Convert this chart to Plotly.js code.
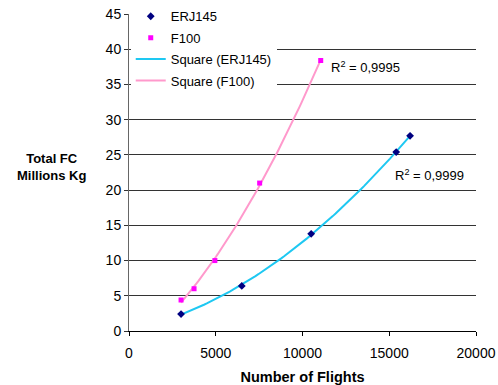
<!DOCTYPE html>
<html>
<head>
<meta charset="utf-8">
<script src="https://cdn.plot.ly/plotly-3.0.1.min.js"></script>
<style>html,body{margin:0;padding:0;background:#fff;}#chart{width:498px;height:385px;}</style>
</head>
<body>
<div id="chart"></div>
<script>
// Data
const erjFlights = [3000, 6500, 10500, 15400, 16200];
const erjFuel    = [2.4, 6.4, 13.8, 25.4, 27.7];
const f100Flights = [3000, 3750, 4950, 7530, 11050];
const f100Fuel    = [4.4, 6.0, 10.0, 21.0, 38.4];
const r2Labels = ["R<sup>2</sup> = 0,9999", "R<sup>2</sup> = 0,9995"];
const xTickVals = [0, 5000, 10000, 15000, 20000];
const yTickVals = [0, 5, 10, 15, 20, 25, 30, 35, 40, 45];

// Second-order (quadratic) least-squares trendline, like the spreadsheet "Square" fit
function quadFit(xs, ys) {
  let s = [0,0,0,0,0], t = [0,0,0];
  for (let i = 0; i < xs.length; i++) {
    const x = xs[i], y = ys[i];
    for (let k = 0; k < 5; k++) s[k] += Math.pow(x, k);
    for (let k = 0; k < 3; k++) t[k] += y * Math.pow(x, k);
  }
  const A = [[s[0], s[1], s[2], t[0]], [s[1], s[2], s[3], t[1]], [s[2], s[3], s[4], t[2]]];
  for (let c = 0; c < 3; c++) {
    let p = c;
    for (let r = c + 1; r < 3; r++) if (Math.abs(A[r][c]) > Math.abs(A[p][c])) p = r;
    [A[c], A[p]] = [A[p], A[c]];
    for (let r = 0; r < 3; r++) {
      if (r === c) continue;
      const f = A[r][c] / A[c][c];
      for (let k = c; k < 4; k++) A[r][k] -= f * A[c][k];
    }
  }
  const coef = [A[0][3] / A[0][0], A[1][3] / A[1][1], A[2][3] / A[2][2]];
  const lo = Math.min(...xs), hi = Math.max(...xs), n = 80;
  const fx = [], fy = [];
  for (let i = 0; i <= n; i++) {
    const x = lo + (hi - lo) * i / n;
    fx.push(x); fy.push(coef[0] + coef[1] * x + coef[2] * x * x);
  }
  return {x: fx, y: fy};
}

const erjFit = quadFit(erjFlights, erjFuel);
const f100Fit = quadFit(f100Flights, f100Fuel);

const data = [
  {type: 'scatter', mode: 'lines', name: 'Square (ERJ145)', x: erjFit.x, y: erjFit.y,
   line: {color: '#1EC8F2', width: 2}, legendrank: 3, legendgroup: 'c'},
  {type: 'scatter', mode: 'lines', name: 'Square (F100)', x: f100Fit.x, y: f100Fit.y,
   line: {color: '#FF99CC', width: 2}, legendrank: 4, legendgroup: 'd'},
  {type: 'scatter', mode: 'markers', name: 'ERJ145', x: erjFlights, y: erjFuel,
   marker: {symbol: 'diamond', color: '#000080', size: 6}, legendrank: 1, legendgroup: 'a'},
  {type: 'scatter', mode: 'markers', name: 'F100', x: f100Flights, y: f100Fuel,
   marker: {symbol: 'square', color: '#FF00FF', size: 5}, legendrank: 2, legendgroup: 'b'}
];

const font = 'Arial, "Liberation Sans", sans-serif';
const layout = {
  width: 498, height: 385,
  margin: {l: 129, r: 22, t: 14, b: 54, autoexpand: false},
  paper_bgcolor: '#fff', plot_bgcolor: '#fff',
  font: {family: font, size: 14, color: '#000'},
  showlegend: true,
  legend: {x: 0.005, y: 1.04, xanchor: 'left', yanchor: 'top', bgcolor: '#fff',
           borderwidth: 0, font: {family: font, size: 13, color: '#000'},
           traceorder: 'grouped', tracegroupgap: 1.5, itemclick: false},
  xaxis: {range: [0, 20000], tickvals: xTickVals, ticktext: xTickVals.map(String),
          showgrid: false, zeroline: false, showline: true, linecolor: '#000', linewidth: 1,
          ticks: 'outside', ticklen: 4, tickcolor: '#000', ticklabelstandoff: 5,
          tickfont: {size: 14},
          title: {text: '<b>Number of Flights</b>', font: {size: 14.5}, standoff: 12}},
  yaxis: {range: [0, 45], tickvals: yTickVals, ticktext: yTickVals.map(String),
          showgrid: true, gridcolor: '#333', gridwidth: 1, zeroline: false,
          showline: true, linecolor: '#666', linewidth: 1,
          ticks: 'outside', ticklen: 4, tickcolor: '#333', tickfont: {size: 14}},
  annotations: [
    {text: '<b>Total FC</b><br><b>Millions Kg</b>', xref: 'paper', yref: 'paper',
     x: -0.222, y: 0.516, xanchor: 'center', yanchor: 'middle', showarrow: false,
     font: {size: 13}},
    {text: r2Labels[0], xref: 'x', yref: 'y', x: 15200, y: 22.1, xanchor: 'left',
     yanchor: 'middle', showarrow: false, font: {size: 13}},
    {text: r2Labels[1], xref: 'x', yref: 'y', x: 11520, y: 37.5, xanchor: 'left',
     yanchor: 'middle', showarrow: false, font: {size: 13}}
  ]
};

Plotly.newPlot('chart', data, layout, {staticPlot: true, displayModeBar: false});
</script>
</body>
</html>
